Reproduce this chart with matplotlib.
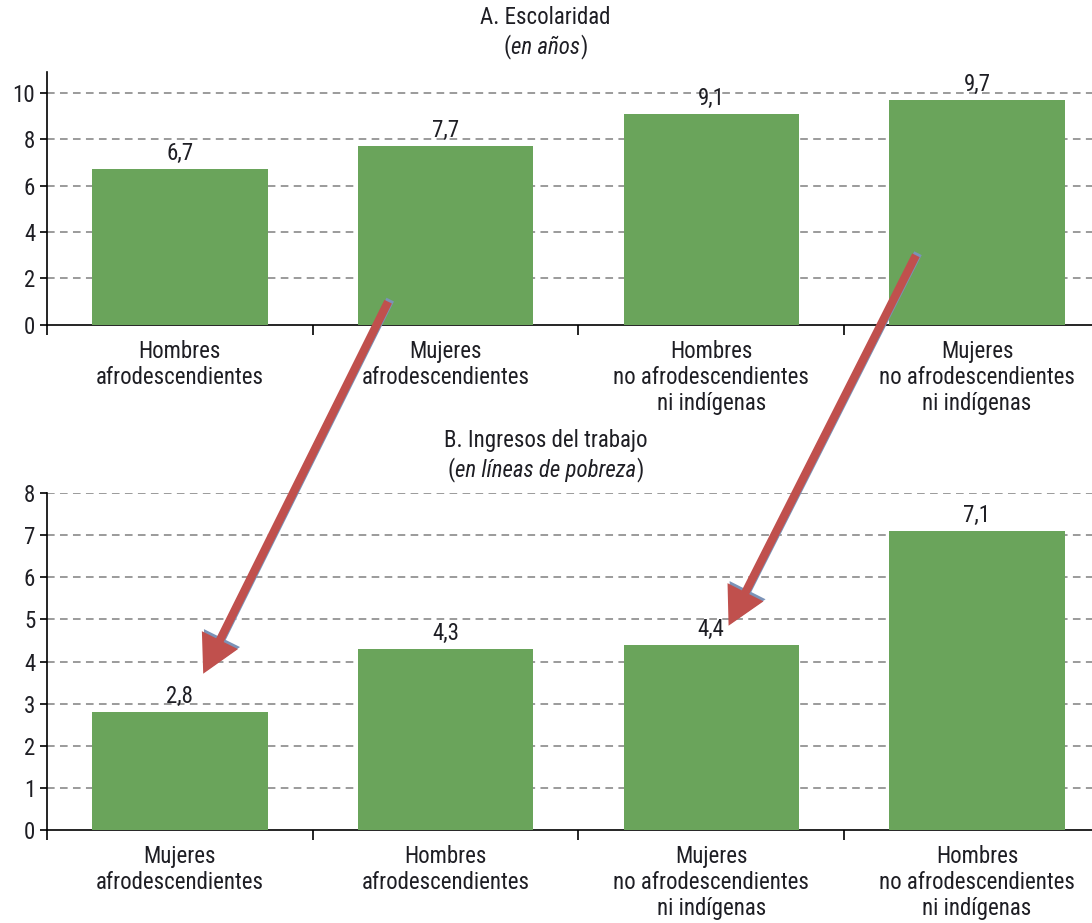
import matplotlib
matplotlib.use("Agg")
import matplotlib.pyplot as plt
from matplotlib.patches import ConnectionPatch
from matplotlib.offsetbox import TextArea, HPacker, AnchoredOffsetbox
import matplotlib.patheffects as pe

plt.rcParams['font.family'] = ['Roboto Condensed', 'Archivo Narrow', 'PT Sans Narrow',
                               'Liberation Sans', 'DejaVu Sans']

# data
cats_a = ["Hombres\nafrodescendientes", "Mujeres\nafrodescendientes",
          "Hombres\nno afrodescendientes\nni indígenas",
          "Mujeres\nno afrodescendientes\nni indígenas"]
vals_a = [6.7, 7.7, 9.1, 9.7]
cats_b = ["Mujeres\nafrodescendientes", "Hombres\nafrodescendientes",
          "Mujeres\nno afrodescendientes\nni indígenas",
          "Hombres\nno afrodescendientes\nni indígenas"]
vals_b = [2.8, 4.3, 4.4, 7.1]

green = "#6aa45b"
txt = "#1e1e24"
red = "#c0504d"
fs = 16.5

fig = plt.figure(figsize=(10.92, 9.23), dpi=100)
ax1 = fig.add_axes([0.043, 0.648, 0.9734, 0.274])
ax2 = fig.add_axes([0.043, 0.1008, 0.9734, 0.365])


def draw(ax, cats, vals, ymax, yticks):
    x = list(range(len(cats)))
    ax.bar(x, vals, width=0.66, color=green, zorder=3)
    for xi, v in zip(x, vals):
        ax.annotate(f"{v:.1f}".replace(".", ","), (xi, v), xytext=(0, 3),
                    textcoords="offset points", ha="center", va="bottom",
                    fontsize=fs, color=txt)
    ax.set_xlim(-0.5, len(cats) - 0.5)
    ax.set_ylim(0, ymax)
    ax.set_yticks(yticks)
    ax.tick_params(axis="y", labelsize=fs, labelcolor=txt, length=5, width=1.2)
    # category boundaries as major ticks, names as minor ticks
    ax.set_xticks([i - 0.5 for i in range(len(cats) + 1)])
    ax.set_xticklabels([])
    ax.set_xticks(x, minor=True)
    ax.set_xticklabels(cats, minor=True, fontsize=fs, color=txt, linespacing=1.15)
    ax.tick_params(axis="x", which="major", length=7, width=1.2)
    ax.tick_params(axis="x", which="minor", length=0, pad=11)
    for t in yticks[1:]:
        ax.axhline(t, color="#808080", ls=(0, (5, 3.5)), lw=1.1, zorder=1)
    for s in ["top", "right"]:
        ax.spines[s].set_visible(False)
    for s in ["left", "bottom"]:
        ax.spines[s].set_linewidth(1.2)


draw(ax1, cats_a, vals_a, 10.9, [0, 2, 4, 6, 8, 10])
draw(ax2, cats_b, vals_b, 8, [0, 1, 2, 3, 4, 5, 6, 7, 8])


def titles(y1, y2, title, sub):
    fig.text(0.4995, y1, title, ha="center", va="center", fontsize=fs, color=txt)
    box = HPacker(children=[
        TextArea("(", textprops=dict(fontsize=fs, color=txt)),
        TextArea(sub, textprops=dict(fontsize=fs, color=txt, style="italic")),
        TextArea(")", textprops=dict(fontsize=fs, color=txt))],
        pad=0, sep=0, align="baseline")
    ab = AnchoredOffsetbox(loc="center", child=box, frameon=False,
                           bbox_to_anchor=(0.4995, y2), bbox_transform=fig.transFigure,
                           borderpad=0, pad=0)
    fig.add_artist(ab)


titles(1 - 18 / 923, 1 - 47 / 923, "A. Escolaridad", "en años")
titles(1 - 440 / 923, 1 - 470 / 923, "B. Ingresos del trabajo", "en líneas de pobreza")

# arrows linking panel A bars to panel B bars
arrows = [((0.784, 1.0), (0.088, 3.71)), ((2.77, 3.0), (2.065, 4.85))]
for start, end in arrows:
    cp = ConnectionPatch(start, end, coordsA=ax1.transData, coordsB=ax2.transData,
                         arrowstyle="simple,head_length=1.35,head_width=1.45,tail_width=0.3",
                         mutation_scale=20, color=red, lw=0, zorder=10,
                         path_effects=[pe.SimplePatchShadow(offset=(1.5, 1.5), shadow_rgbFace="#7b93b8", alpha=1),
                                       pe.Normal()])
    fig.add_artist(cp)

fig.savefig("out.png", dpi=100)
